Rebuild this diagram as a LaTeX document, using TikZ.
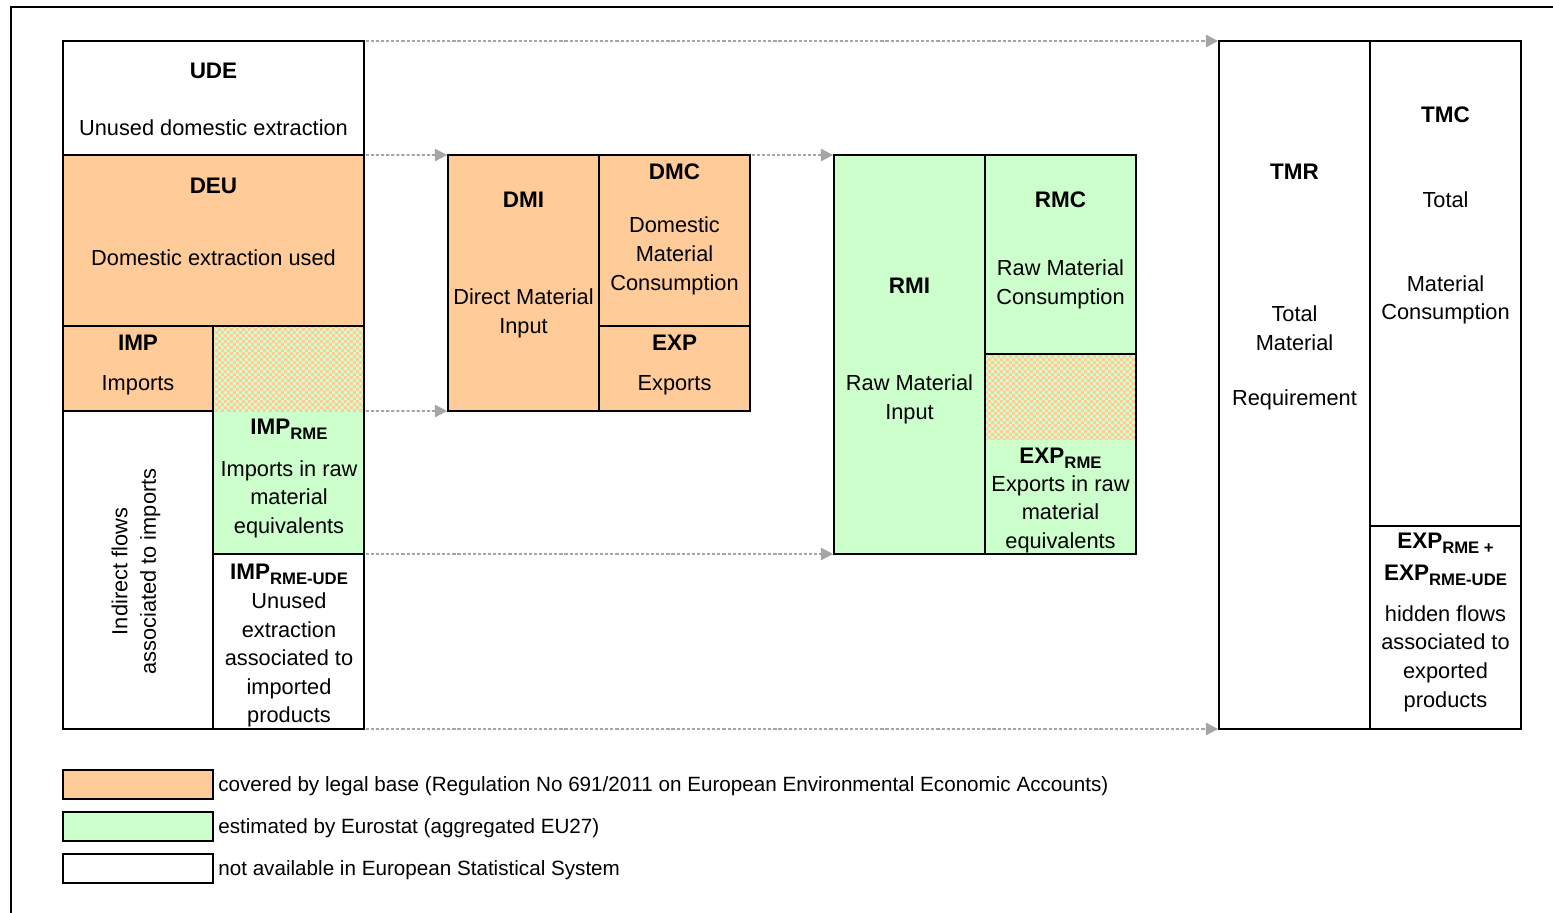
\documentclass[tikz,border=0pt]{standalone}
\usepackage{fontspec}
\setmainfont{Liberation Sans}
\usetikzlibrary{fit,arrows.meta,patterns}
\definecolor{orng}{RGB}{255,204,153}
\definecolor{grn}{RGB}{204,255,204}
\definecolor{arrgray}{RGB}{165,165,165}
\pgfdeclarepatternformonly{chk}{\pgfpointorigin}{\pgfqpoint{3.4pt}{3.4pt}}{\pgfqpoint{3.4pt}{3.4pt}}{%
  \pgfpathrectangle{\pgfpointorigin}{\pgfqpoint{1.7pt}{1.7pt}}%
  \pgfpathrectangle{\pgfqpoint{1.7pt}{1.7pt}}{\pgfqpoint{1.7pt}{1.7pt}}%
  \pgfusepath{fill}}
\newcommand\sbs[1]{\raisebox{-0.45ex}{\fontsize{9.5}{9.5}\selectfont #1}}
\newcommand\mybox[6]{\node[boxst,#6,fit={(#2,#3)(#4,#5)}] (#1) {};}
\tikzset{
  boxst/.style={draw=black, line width=1.3pt, inner sep=0pt, outer sep=0pt},
  plain/.style={inner sep=0pt, outer sep=0pt},
  ttl/.style={font=\bfseries\fontsize{12.8}{16}\selectfont, inner sep=0pt, align=center, yshift=-0.03cm},
  txt/.style={font=\fontsize{12.4}{16.3}\selectfont, inner sep=0pt, align=center, yshift=-0.03cm},
  lgd/.style={font=\fontsize{11.75}{14}\selectfont, inner sep=0pt, anchor=west, yshift=-0.03cm},
  flow/.style={draw=arrgray, line width=1.1pt, dash pattern=on 1.8pt off 1.1pt,
    -{Triangle[length=7pt,width=7pt,fill=arrgray]}, shorten <=1pt, shorten >=0.5pt},
  hatch/.style={pattern=chk, pattern color=orng}
}
\begin{document}
\begin{tikzpicture}[x=0.02cm,y=-0.02cm]
\useasboundingbox (0,0) rectangle (1553,913);
% outer frame
\draw[line width=1.3pt] (11,913) -- (11,7) -- (1553,7);

% left column
\mybox{ude}{63}{41}{364}{155}{fill=white}
\mybox{deu}{63}{155}{364}{326}{fill=orng}
\mybox{imp}{63}{326}{213}{411}{fill=orng}
\mybox{impcol}{213}{326}{364}{554}{fill=grn}
\fill[hatch] (214,327) rectangle (363,411);
\node[plain, fit={(213,411)(364,554)}] (imprme) {};
\mybox{indirect}{63}{411}{213}{729}{fill=white}
\mybox{impude}{213}{554}{364}{729}{fill=white}

% DMI / DMC / EXP
\mybox{dmi}{448}{155}{599}{411}{fill=orng}
\mybox{dmc}{599}{155}{750}{326}{fill=orng}
\mybox{exp}{599}{326}{750}{411}{fill=orng}

% RMI / RMC / EXP_RME
\mybox{rmi}{834}{155}{985}{554}{fill=grn}
\mybox{rmc}{985}{155}{1136}{354}{fill=grn}
\mybox{expcol}{985}{354}{1136}{554}{fill=grn}
\fill[hatch] (986,355) rectangle (1135,439);

% TMR / TMC
\mybox{tmr}{1219}{41}{1370}{729}{fill=white}
\mybox{tmc}{1370}{41}{1521}{526}{fill=white}
\mybox{hidden}{1370}{526}{1521}{729}{fill=white}

% flows
\draw[flow] (ude.north east) -- (tmr.north west);
\draw[flow] (deu.north east) -- (dmi.north west);
\draw[flow] (dmc.north east) -- (rmi.north west);
\draw[flow] (imprme.north east) -- (dmi.south west);
\draw[flow] (imprme.south east) -- (rmi.south west);
\draw[flow] (impude.south east) -- (tmr.south west);

% texts
\node[ttl] (t-ude) at (213.5,69) {UDE};
\node[txt] (d-ude) at (213.5,126) {Unused domestic extraction};
\node[ttl] (t-deu) at (213.5,184) {DEU};
\node[txt] (d-deu) at (213.5,256) {Domestic extraction used};
\node[ttl] (t-imp) at (138,341) {IMP};
\node[txt] (d-imp) at (138,384) {Imports};
\node[ttl] (t-imprme) at (289,428) {IMP\sbs{RME}};
\node[txt] (d-imprme) at (289,497.5) {Imports in raw\\material\\equivalents};
\node[ttl] (t-impude) at (289,573) {IMP\sbs{RME-UDE}};
\node[txt] (d-impude) at (289,658.5) {Unused\\extraction\\associated to\\imported\\products};
\node[txt, rotate=90] (d-indirect) at (136,570) {Indirect flows\\associated to imports};

\node[ttl] (t-dmi) at (523.5,198) {DMI};
\node[txt] (d-dmi) at (523.5,312) {Direct Material\\Input};
\node[ttl] (t-dmc) at (674.5,170) {DMC};
\node[txt] (d-dmc) at (674.5,254.5) {Domestic\\Material\\Consumption};
\node[ttl] (t-exp) at (674.5,341) {EXP};
\node[txt] (d-exp) at (674.5,384) {Exports};

\node[ttl] (t-rmi) at (909.5,284) {RMI};
\node[txt] (d-rmi) at (909.5,398) {Raw Material\\Input};
\node[ttl] (t-rmc) at (1060.5,198) {RMC};
\node[txt] (d-rmc) at (1060.5,283) {Raw Material\\Consumption};
\node[ttl] (t-exprme) at (1060.5,457) {EXP\sbs{RME}};
\node[txt] (d-exprme) at (1060.5,512.5) {Exports in raw\\material\\equivalents};

\node[ttl] (t-tmr) at (1294.5,170) {TMR};
\node[txt] (d-tmr) at (1294.5,327) {Total\\Material};
\node[txt] (d-tmr2) at (1294.5,398) {Requirement};
\node[ttl] (t-tmc) at (1445.5,113) {TMC};
\node[txt] (d-tmc) at (1445.5,198) {Total};
\node[txt] (d-tmc2) at (1445.5,298.5) {Material\\Consumption};
\node[ttl] (t-hid1) at (1445.5,542) {EXP\sbs{RME +}};
\node[ttl] (t-hid2) at (1445.5,574) {EXP\sbs{RME-UDE}};
\node[txt] (d-hid) at (1445.5,657) {hidden flows\\associated to\\exported\\products};

% legend
\mybox{lg1}{63}{770}{213}{799}{fill=orng}
\mybox{lg2}{63}{812}{213}{841}{fill=grn}
\mybox{lg3}{63}{854}{213}{883}{fill=white}
\node[lgd] (l1) at (218,785) {covered by legal base (Regulation No 691/2011 on European Environmental Economic Accounts)};
\node[lgd] (l2) at (218,827) {estimated by Eurostat (aggregated EU27)};
\node[lgd] (l3) at (218,869) {not available in European Statistical System};
\end{tikzpicture}
\end{document}
